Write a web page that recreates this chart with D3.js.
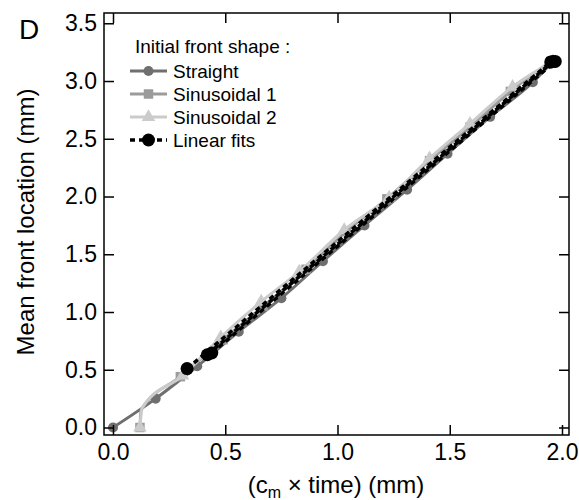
<!DOCTYPE html>
<meta charset="utf-8">
<style>
  body { margin: 0; background: #fff; }
  svg text { font-family: "Liberation Sans", Arial, Helvetica, sans-serif; fill: #000; }
  .tick text { font-size: 23px; }
  text.label { font-size: 24px; }
  text.legend { font-size: 19px; }
  text.panel { font-size: 28px; }
</style>
<script src="https://d3js.org/d3.v7.min.js"></script>
<div id="chart"></div>
<script>
// tick values
var xTicks = [0, 0.5, 1.0, 1.5, 2.0];
var yTicks = [0, 0.5, 1.0, 1.5, 2.0, 2.5, 3.0, 3.5];

// Straight front (dark gray circles)
var straightX = [0, 0.19, 0.375, 0.56, 0.75, 0.935, 1.12, 1.31, 1.49, 1.68, 1.87, 1.95];
var straightY = [0, 0.25, 0.53, 0.83, 1.12, 1.44, 1.75, 2.06, 2.37, 2.69, 2.99, 3.15];

// Sinusoidal 1 (gray squares), second point has no marker
var sin1X = [0.12, 0.125, 0.30, 0.49, 0.67, 0.86, 1.04, 1.22, 1.41, 1.59, 1.77, 1.95];
var sin1Y = [0, 0.15, 0.44, 0.76, 1.05, 1.37, 1.70, 1.98, 2.31, 2.60, 2.91, 3.17];

// Sinusoidal 2 (light gray triangles)
var sin2X = [0.12, 0.13, 0.31, 0.48, 0.66, 0.83, 1.03, 1.23, 1.41, 1.59, 1.78, 1.96];
var sin2Y = [0, 0.17, 0.45, 0.78, 1.09, 1.35, 1.71, 1.99, 2.33, 2.63, 2.95, 3.17];

// linear fits: start and end points
var fitStartX = [0.33, 0.42, 0.44];
var fitStartY = [0.51, 0.63, 0.645];
var fitEndX = [1.95, 1.96, 1.97];
var fitEndY = [3.165, 3.17, 3.17];

var legendNames = ["Straight", "Sinusoidal 1", "Sinusoidal 2", "Linear fits"];

var W = 579, H = 500;
var svg = d3.select("#chart").append("svg")
    .attr("width", W)
    .attr("height", H);

var x = d3.scaleLinear().domain([-0.0401, 2.0312]).range([104, 569]);
var y = d3.scaleLinear().domain([-0.065, 3.589]).range([435, 13]);

var colors = ["#6f6f6f", "#9b9b9b", "#cbcbcb"];

// data lines
var line = d3.line()
    .x(function(d) { return x(d[0]); })
    .y(function(d) { return y(d[1]); })
    .curve(d3.curveMonotoneX);

var series = [
  {xs: straightX, ys: straightY, color: colors[0], shape: "circle", skip: []},
  {xs: sin1X, ys: sin1Y, color: colors[1], shape: "square", skip: [1]},
  {xs: sin2X, ys: sin2Y, color: colors[2], shape: "triangle", skip: [1]}
];

function symbolFor(shape) {
  if (shape == "circle") return d3.symbol().type(d3.symbolCircle).size(80)();
  if (shape == "square") return d3.symbol().type(d3.symbolSquare).size(90)();
  return d3.symbol().type(d3.symbolTriangle).size(80)();
}

series.forEach(function(s) {
  var pts = s.xs.map(function(v, i) { return [v, s.ys[i]]; });
  svg.append("path")
    .datum(pts)
    .attr("d", line)
    .attr("fill", "none")
    .attr("stroke", s.color)
    .attr("stroke-width", 3);
  svg.append("g")
    .selectAll("path")
    .data(pts.filter(function(d, i) { return s.skip.indexOf(i) < 0; }))
    .enter()
    .append("path")
      .attr("d", symbolFor(s.shape))
      .attr("transform", function(d) { return "translate(" + x(d[0]) + "," + y(d[1]) + ")"; })
      .attr("fill", s.color);
});

// linear fits
fitStartX.forEach(function(v, i) {
  svg.append("line")
    .attr("x1", x(v)).attr("y1", y(fitStartY[i]))
    .attr("x2", x(fitEndX[i])).attr("y2", y(fitEndY[i]))
    .attr("stroke", "#000")
    .attr("stroke-width", 3.5)
    .attr("stroke-dasharray", "5,4");
  svg.append("circle").attr("cx", x(v)).attr("cy", y(fitStartY[i])).attr("r", 6.5).attr("fill", "#000");
  svg.append("circle").attr("cx", x(fitEndX[i])).attr("cy", y(fitEndY[i])).attr("r", 6.5).attr("fill", "#000");
});

// axes, ticks inward on all four sides
var fmt = d3.format(".1f");
var axB = svg.append("g").attr("transform", "translate(0,435)")
    .call(d3.axisBottom(x).tickValues(xTicks).tickFormat(fmt).tickSizeInner(-10).tickSizeOuter(0).tickPadding(9));
var axL = svg.append("g").attr("transform", "translate(104,0)")
    .call(d3.axisLeft(y).tickValues(yTicks).tickFormat(fmt).tickSizeInner(-10).tickSizeOuter(0).tickPadding(7));
var axT = svg.append("g").attr("transform", "translate(0,13)")
    .call(d3.axisTop(x).tickValues(xTicks).tickFormat("").tickSizeInner(-10).tickSizeOuter(0));
var axR = svg.append("g").attr("transform", "translate(569,0)")
    .call(d3.axisRight(y).tickValues(yTicks).tickFormat("").tickSizeInner(-10).tickSizeOuter(0));
[axB, axL, axT, axR].forEach(function(a) {
  a.selectAll("line").attr("stroke", "#000").attr("stroke-width", 1.5);
  a.select(".domain").remove();
});

svg.append("rect")
  .attr("x", 104).attr("y", 13)
  .attr("width", 569 - 104).attr("height", 435 - 13)
  .attr("fill", "none")
  .attr("stroke", "#000")
  .attr("stroke-width", 1.5);

// axis titles
svg.append("text")
  .attr("class", "label")
  .attr("transform", "translate(34,222) rotate(-90)")
  .attr("text-anchor", "middle")
  .text("Mean front location (mm)");

var xl = svg.append("text")
  .attr("class", "label")
  .attr("x", 336).attr("y", 493)
  .attr("text-anchor", "middle");
xl.append("tspan").text("(c");
xl.append("tspan").attr("dy", 5).style("font-size", "16px").text("m");
xl.append("tspan").attr("dy", -5).text(" \u00d7 time) (mm)");

svg.append("text")
  .attr("class", "panel")
  .attr("x", 19).attr("y", 39)
  .text("D");

// legend
svg.append("text")
  .attr("class", "legend")
  .attr("x", 135).attr("y", 46).attr("dy", "0.35em")
  .text("Initial front shape :");

var rowY = [71, 94, 117, 140];
legendNames.forEach(function(name, i) {
  var g = svg.append("g").attr("transform", "translate(0," + rowY[i] + ")");
  if (i < 3) {
    g.append("line").attr("x1", 130).attr("x2", 167)
      .attr("stroke", colors[i]).attr("stroke-width", 3);
    g.append("path").attr("d", symbolFor(series[i].shape))
      .attr("transform", "translate(148.5,0)").attr("fill", colors[i]);
  } else {
    g.append("line").attr("x1", 130).attr("x2", 167)
      .attr("stroke", "#000").attr("stroke-width", 3.5).attr("stroke-dasharray", "5,4");
    g.append("circle").attr("cx", 148.5).attr("r", 6.5).attr("fill", "#000");
  }
  g.append("text").attr("class", "legend")
    .attr("x", 173).attr("dy", "0.35em")
    .text(name);
});
</script>
